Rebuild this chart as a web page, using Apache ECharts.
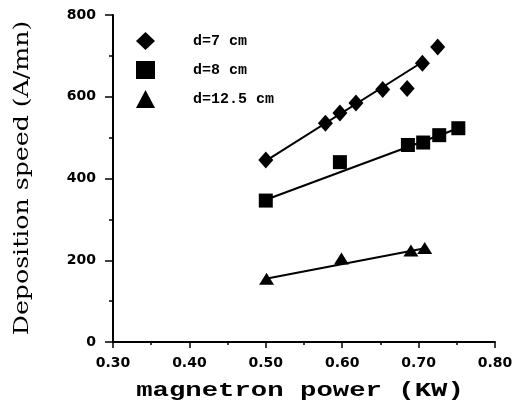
<!DOCTYPE html>
<html>
<head>
<meta charset="utf-8">
<script src="https://cdn.jsdelivr.net/npm/echarts@6/dist/echarts.min.js"></script>
<style>
  html, body { margin: 0; padding: 0; background: #fff; }
  #chart { width: 518px; height: 405px; }
</style>
</head>
<body>
<div id="chart"></div>
<script>
const d7 = [[0.50, 445], [0.578, 535], [0.597, 560], [0.618, 585], [0.653, 618], [0.685, 620], [0.705, 682], [0.725, 722]]
const d8 = [[0.50, 346], [0.597, 440], [0.686, 482], [0.706, 488], [0.727, 506], [0.752, 523]]
const d125 = [[0.501, 155], [0.599, 204], [0.69, 224], [0.708, 230]]
// straight lines drawn through each set (end points)
const fit7 = [[0.50, 443], [0.705, 685]]
const fit8 = [[0.50, 348], [0.752, 523]]
const fit125 = [[0.50, 155], [0.71, 230]]
const names = ['d=7 cm', 'd=8 cm', 'd=12.5 cm']

const chart = echarts.init(document.getElementById('chart'))

const tickFont = {
  color: '#000',
  fontFamily: 'DejaVu Sans',
  fontWeight: 'bold',
  fontSize: 14
}

const fitLine = (data) => ({
  type: 'line',
  data: data,
  showSymbol: false,
  symbol: 'none',
  silent: true,
  lineStyle: { color: '#000', width: 2 },
  z: 2
})

const option = {
  animation: false,
  grid: { left: 113, right: 23, top: 15, bottom: 63 },
  legend: {
    data: names,
    orient: 'vertical',
    left: 131,
    top: 27,
    itemWidth: 19,
    itemHeight: 18,
    itemGap: 11,
    itemStyle: { opacity: 1 },
    textStyle: {
      color: '#000',
      fontFamily: 'Liberation Mono',
      fontWeight: 'bold',
      fontSize: 15,
      padding: [0, 0, 0, 33]
    }
  },
  xAxis: {
    type: 'value',
    min: 0.3,
    max: 0.8,
    interval: 0.1,
    splitLine: { show: false },
    axisLine: { onZero: false, lineStyle: { color: '#000', width: 2 } },
    axisTick: { length: 6, lineStyle: { color: '#000', width: 1.5 } },
    minorTick: { show: true, splitNumber: 2, length: 3, lineStyle: { color: '#000', width: 1.5 } },
    axisLabel: Object.assign({ margin: 14, formatter: (v) => v.toFixed(2) }, tickFont)
  },
  yAxis: {
    type: 'value',
    min: 0,
    max: 800,
    interval: 200,
    splitLine: { show: false },
    axisLine: { show: true, lineStyle: { color: '#000', width: 2 } },
    axisTick: { show: true, length: 8, lineStyle: { color: '#000', width: 1.5 } },
    minorTick: { show: true, splitNumber: 2, length: 4, lineStyle: { color: '#000', width: 1.5 } },
    axisLabel: Object.assign({ margin: 17 }, tickFont)
  },
  graphic: [
    {
      type: 'text',
      x: 300,
      y: 391,
      scaleX: 1.3,
      style: {
        text: 'magnetron power (KW)',
        font: 'bold 21px "Liberation Mono"',
        fill: '#000',
        align: 'center',
        verticalAlign: 'middle',
        textAlign: 'center',
        textVerticalAlign: 'middle'
      }
    },
    {
      type: 'text',
      x: 23,
      y: 178,
      rotation: Math.PI / 2,
      scaleX: 1.26,
      style: {
        text: 'Deposition speed (A/mn)',
        font: '20px "DejaVu Serif"',
        fill: '#000',
        align: 'center',
        verticalAlign: 'middle',
        textAlign: 'center',
        textVerticalAlign: 'middle'
      }
    }
  ],
  series: [
    fitLine(fit7),
    fitLine(fit8),
    fitLine(fit125),
    {
      name: names[0],
      type: 'scatter',
      symbol: 'diamond',
      symbolSize: [15, 17],
      itemStyle: { color: '#000', opacity: 1 },
      data: d7,
      z: 3
    },
    {
      name: names[1],
      type: 'scatter',
      symbol: 'rect',
      symbolSize: 14,
      itemStyle: { color: '#000', opacity: 1 },
      data: d8,
      z: 3
    },
    {
      name: names[2],
      type: 'scatter',
      symbol: 'triangle',
      symbolSize: [15, 12],
      itemStyle: { color: '#000', opacity: 1 },
      data: d125,
      z: 3
    }
  ]
}

chart.setOption(option)
</script>
</body>
</html>
